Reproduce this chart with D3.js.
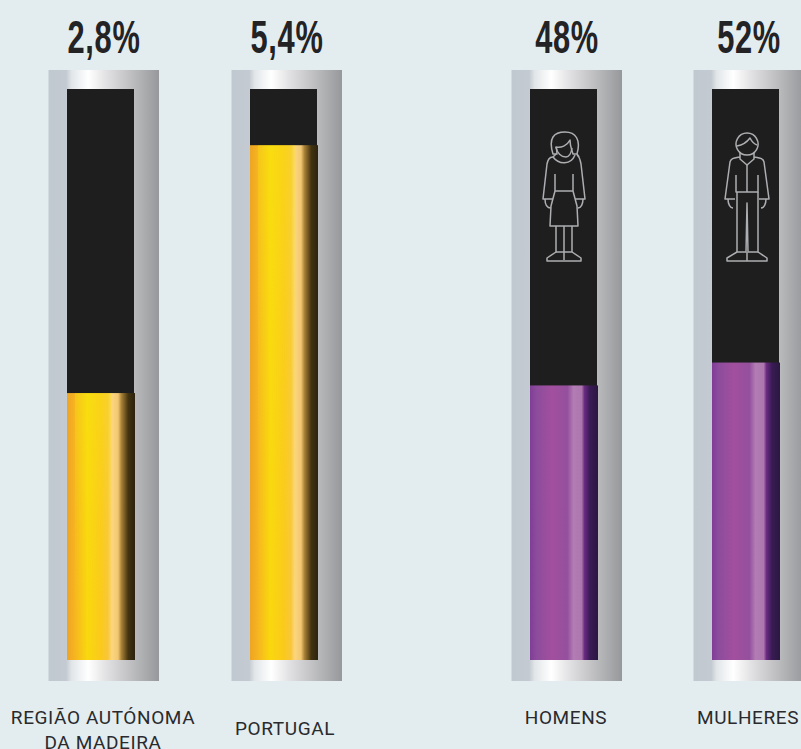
<!DOCTYPE html>
<html>
<head>
<meta charset="utf-8">
<script src="https://cdn.jsdelivr.net/npm/d3@7"></script>
<style>
html, body { margin: 0; padding: 0; background: #e3edf0; overflow: hidden; }
svg { display: block; }
.big { font-family: "Liberation Sans", sans-serif; font-weight: 700; font-size: 46px; letter-spacing: 1px; fill: #232325; text-anchor: middle; }
.lab { font-family: Roboto, sans-serif; font-size: 19px; letter-spacing: 0.6px; fill: #2a2a2d; text-anchor: middle; }
</style>
</head>
<body>
<script>
var categories = ["REGIÃO AUTÓNOMA|DA MADEIRA", "PORTUGAL", "HOMENS", "MULHERES"];
var values = [2.8, 5.4, 48, 52];
var valueLabels = ["2,8%", "5,4%", "48%", "52%"];
var groups = ["taxa", "taxa", "sexo", "sexo"];
var icons = [null, null, "woman", "man"];

var width = 801, height = 749;
var tubeTop = 70, tubeBottom = 681;
var innerTop = 89, innerBottom = 660, innerW = 67;

var svg = d3.select("body").append("svg").attr("width", width).attr("height", height);
var defs = svg.append("defs");

function gradient(id, stops) {
    defs.append("linearGradient").attr("id", id)
        .selectAll("stop").data(stops).enter().append("stop")
        .attr("offset", function(d) { return d[0]; })
        .attr("stop-color", function(d) { return d[1]; });
}

gradient("metal", [[0, "#c1c9d0"], [0.16, "#c3cad1"], [0.21, "#e2e6e9"], [0.36, "#ffffff"], [0.52, "#e2e2e4"], [0.72, "#c3c3c5"], [0.8, "#b6b7b9"], [1, "#97989b"]]);
gradient("gold", [[0, "#eea424"], [0.12, "#f6b520"], [0.3, "#f9d80e"], [0.5, "#fbc91c"], [0.6, "#f8c63a"], [0.66, "#fbd67e"], [0.75, "#f3c772"], [0.8, "#a98238"], [0.9, "#43330f"], [1, "#2c2410"]]);
gradient("purple", [[0, "#7f3d96"], [0.1, "#8d4c9c"], [0.32, "#a24f9e"], [0.55, "#94509d"], [0.64, "#b27db4"], [0.76, "#ad76ae"], [0.8, "#6a2c80"], [0.88, "#3a1b55"], [1, "#2a1840"]]);

// yellow wash so the gold reads brighter toward the top
defs.append("linearGradient").attr("id", "wash").attr("x1", 0).attr("x2", 0).attr("y1", 0).attr("y2", 1)
    .selectAll("stop").data([[0, 0.3], [0.5, 0.1], [1, 0]]).enter().append("stop")
    .attr("offset", function(d) { return d[0]; })
    .attr("stop-color", "#f8ea10")
    .attr("stop-opacity", function(d) { return d[1]; });

var x = d3.scaleOrdinal().domain(categories).range([104, 287, 567, 749]);
var tubeW = 110.5;

var yTaxa = d3.scaleLinear().domain([0, 6]).range([innerBottom, innerTop - 1]);
var ySexo = d3.scaleLinear().domain([0, 100]).range([innerBottom, innerTop - 1]);

function yFor(i) { return groups[i] === "taxa" ? yTaxa(values[i]) : ySexo(values[i]); }

var bars = svg.selectAll("g.bar").data(categories).enter().append("g")
    .attr("class", "bar")
    .attr("transform", function(d) { return "translate(" + x(d) + ",0)"; });

bars.append("rect")
    .attr("x", -55.5).attr("y", tubeTop)
    .attr("width", tubeW).attr("height", tubeBottom - tubeTop)
    .attr("fill", "url(#metal)");

bars.append("rect")
    .attr("x", -37).attr("y", innerTop)
    .attr("width", innerW).attr("height", innerBottom - innerTop)
    .attr("fill", "#1f1e1f");

bars.append("rect")
    .attr("x", -37).attr("y", function(d, i) { return yFor(i); })
    .attr("width", innerW + 1)
    .attr("height", function(d, i) { return innerBottom - yFor(i); })
    .attr("fill", function(d, i) { return groups[i] === "taxa" ? "url(#gold)" : "url(#purple)"; });

bars.filter(function(d, i) { return groups[i] === "taxa"; }).append("rect")
    .attr("x", -29).attr("y", function(d) { return yTaxa(values[categories.indexOf(d)]); })
    .attr("width", innerW * 0.55)
    .attr("height", function(d) { return innerBottom - yTaxa(values[categories.indexOf(d)]); })
    .attr("fill", "url(#wash)");

bars.append("text").attr("class", "big")
    .attr("transform", "translate(0,53) scale(0.67,1)")
    .text(function(d, i) { return valueLabels[i]; });

bars.each(function(d) {
    var parts = d.split("|");
    var t = d3.select(this).append("text").attr("class", "lab");
    var y0 = d === "PORTUGAL" ? 735 : 724;
    parts.forEach(function(p, j) {
        t.append("tspan").attr("x", d === "PORTUGAL" ? -2 : -1).attr("y", y0 + j * 25).text(p);
    });
});

// outline figures, drawn in a 90x150 box
var womanPaths = [
    "M33,34 C28,18 34,12 45,12 C56,12 61,20 57,34 L53,34 C52,30 50,27 50,20 C47,26 41,28 36,27 C37,30 37,32 37,34 Z",
    "M36,27 C37,33 41,37 46,37 C49,37 51,34 52,28",
    "M33,37 L36,34 M57,34 L59,37",
    "M33,37 C39,45 51,45 55,35",
    "M33,37 C29,37 28,40 27,44 L23,79 L33,79 M57,35 C60,37 60,40 61,44 L65,79 L55,79",
    "M35,54 L35,71 L53,71 L53,54 M35,71 L31,86 L30,106 L58,106 L57,86 L53,71",
    "M25,79 C25,84 27,88 31,88 M63,79 C63,84 61,88 58,88",
    "M36,106 L36,132 M44,106 L44,140 M52,106 L52,132",
    "M36,132 L52,132 M36,132 L27,138 L27,141 L61,141 L61,138 L52,132"
];
var manPaths = [
    "M47,13 A11,11 0 1 0 47.1,13 Z",
    "M37,26 C43,25 47,22 50,18 C52,22 54,24 57,25",
    "M40,33 L40,39 L47,45 L54,39 L54,33",
    "M40,37 C34,38 31,38 30,42 L25,79 L35,79 M54,37 C60,38 63,38 64,42 L69,79 L59,79",
    "M47,45 L47,72 M36,55 L36,72 L58,72 L58,55",
    "M37,72 L37,132 L46,132 L47,83 L48,132 L58,132 L58,72",
    "M28,79 C28,84 30,88 33,88 M66,79 C66,84 64,88 61,88",
    "M37,132 L27,138 L27,141 L67,141 L67,138 L58,132 M47,132 L47,141"
];

svg.selectAll("g.icon").data(icons.filter(Boolean)).enter().append("g")
    .attr("class", "icon")
    .attr("transform", function(d) { return d === "woman" ? "translate(520,120)" : "translate(700,120)"; })
    .attr("fill", "none")
    .attr("stroke", "#adaeb1")
    .attr("stroke-width", 1.5)
    .attr("stroke-linejoin", "round")
    .selectAll("path")
    .data(function(d) { return d === "woman" ? womanPaths : manPaths; })
    .enter().append("path")
    .attr("d", function(d) { return d; });
</script>
</body>
</html>
